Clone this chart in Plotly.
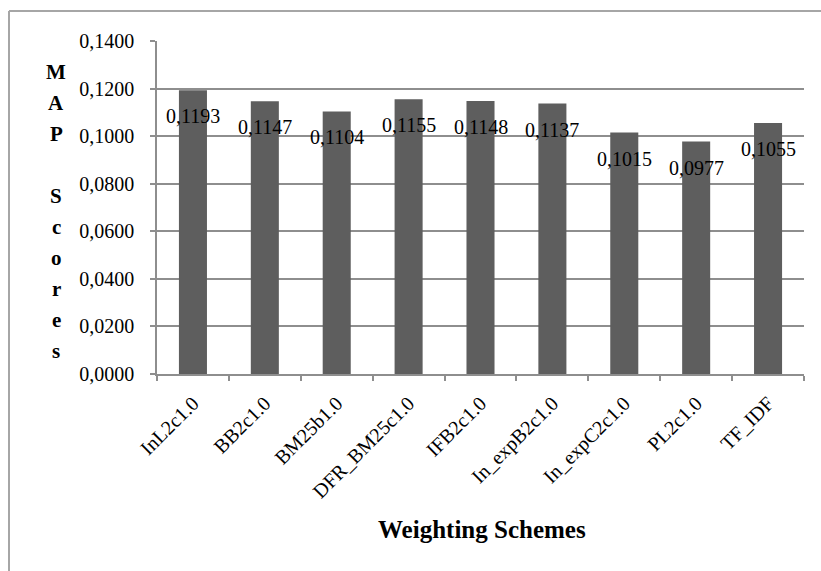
import plotly.graph_objects as go

# MAP scores per weighting scheme
schemes = ["InL2c1.0", "BB2c1.0", "BM25b1.0", "DFR_BM25c1.0", "IFB2c1.0",
           "In_expB2c1.0", "In_expC2c1.0", "PL2c1.0", "TF_IDF"]
map_scores = [0.1193, 0.1147, 0.1104, 0.1155, 0.1148, 0.1137, 0.1015, 0.0977, 0.1055]
y_ticks = [0.0, 0.02, 0.04, 0.06, 0.08, 0.10, 0.12, 0.14]

W, H = 821, 571
ML, MR, MT, MB = 157, 17, 41, 197
PW, PH = W - ML - MR, H - MT - MB

SERIF = "Liberation Serif"
GRID = "#8e8e8e"
BAR = "#5e5e5e"


def px_to_paper_x(px):
    return (px - ML) / PW


def px_to_paper_y(py):
    return (H - MB - py) / PH


fig = go.Figure(go.Bar(
    x=schemes, y=map_scores,
    marker=dict(color=BAR, line=dict(width=0)),
    width=0.39,
    hoverinfo="x+y",
))

annotations = []
# value labels sitting just under the top of each bar
for s, v in zip(schemes, map_scores):
    annotations.append(dict(
        x=s, y=v, xref="x", yref="y", yshift=-26,
        text=f"{v:.4f}".replace(".", ","), showarrow=False,
        xanchor="center", yanchor="middle",
        font=dict(family=SERIF, size=20, color="black"),
    ))

# vertical, letter-stacked y axis title
letters = ["M", "A", "P", "", "S", "c", "o", "r", "e", "s"]
for i, ch in enumerate(letters):
    if not ch:
        continue
    annotations.append(dict(
        x=px_to_paper_x(56), y=px_to_paper_y(72 + 31 * i),
        xref="paper", yref="paper", text=f"<b>{ch}</b>", showarrow=False,
        xanchor="center", yanchor="middle",
        font=dict(family=SERIF, size=21, color="black"),
    ))

# x axis title
annotations.append(dict(
    x=px_to_paper_x(482), y=px_to_paper_y(529),
    xref="paper", yref="paper", text="<b>Weighting Schemes</b>", showarrow=False,
    xanchor="center", yanchor="middle",
    font=dict(family=SERIF, size=25, color="black"),
))

# chart frame (top and left edges visible)
shapes = [
    dict(type="line", xref="paper", yref="paper",
         x0=px_to_paper_x(9), x1=px_to_paper_x(830),
         y0=px_to_paper_y(11), y1=px_to_paper_y(11),
         line=dict(color="#a6a6a6", width=2)),
    dict(type="line", xref="paper", yref="paper",
         x0=px_to_paper_x(9), x1=px_to_paper_x(9),
         y0=px_to_paper_y(11), y1=px_to_paper_y(580),
         line=dict(color="#a6a6a6", width=2)),
]

fig.update_layout(
    width=W, height=H,
    margin=dict(l=ML, r=MR, t=MT, b=MB, pad=0),
    paper_bgcolor="white", plot_bgcolor="white",
    separators=", ",
    showlegend=False,
    bargap=0.61,
    annotations=annotations,
    shapes=shapes,
    font=dict(family=SERIF, color="black"),
)

fig.update_yaxes(
    range=[0, 0.14], tickvals=y_ticks, tickformat=".4f",
    showgrid=True, gridcolor=GRID, gridwidth=1.5,
    showline=True, linecolor=GRID, linewidth=1.5,
    ticks="outside", ticklen=5, tickcolor=GRID, tickwidth=1.5,
    zeroline=False,
    tickfont=dict(family=SERIF, size=20, color="black"),
    ticklabelstandoff=12,
)

fig.update_xaxes(
    showline=True, linecolor=GRID, linewidth=1.5,
    ticks="outside", ticklen=5, tickcolor=GRID, tickwidth=1.5,
    tickson="boundaries", showgrid=False,
    tickangle=-45,
    tickfont=dict(family=SERIF, size=20, color="black"),
    ticklabelstandoff=8,
)

fig.write_html("out.html")
